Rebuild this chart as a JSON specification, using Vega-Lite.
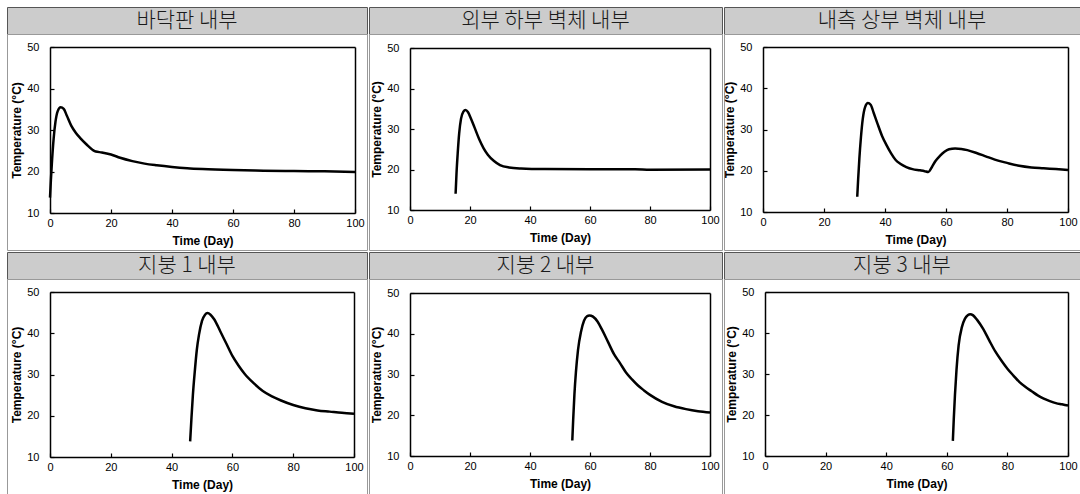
{
  "$schema": "https://vega.github.io/schema/vega-lite/v6.json",
  "padding": {"left": 6, "top": 6, "right": 0, "bottom": 0},
  "background": "#ffffff",
  "config": {
    "font": "Liberation Sans",
    "axis": {
      "grid": false,
      "domainColor": "#000000",
      "domainWidth": 1.5,
      "tickColor": "#000000",
      "tickWidth": 1.2,
      "ticks": true,
      "tickSize": -4,
      "labelFont": "Liberation Sans",
      "labelFontSize": 11,
      "labelColor": "#000000",
      "titleFont": "Liberation Sans",
      "titleFontWeight": "bold",
      "titleFontSize": 12,
      "titleColor": "#000000"
    },
    "axisX": {"labelPadding": 8, "titlePadding": 7, "labelFlush": false},
    "axisY": {"labelPadding": 15, "titlePadding": 3}
  },
  "datasets": {
    "p1": [
      {"day": 0, "temp": 13.7}, {"day": 0.3, "temp": 18}, {"day": 0.7, "temp": 23}, {"day": 1.2, "temp": 28},
      {"day": 1.8, "temp": 32}, {"day": 2.5, "temp": 34.5}, {"day": 3.5, "temp": 35.5}, {"day": 4.5, "temp": 35.1},
      {"day": 5.5, "temp": 33.5}, {"day": 7, "temp": 31}, {"day": 8.5, "temp": 29.3}, {"day": 10, "temp": 28},
      {"day": 12, "temp": 26.5}, {"day": 14, "temp": 25.2}, {"day": 15, "temp": 24.8}, {"day": 17, "temp": 24.6},
      {"day": 20, "temp": 24.1}, {"day": 23, "temp": 23.3}, {"day": 27, "temp": 22.5}, {"day": 31, "temp": 21.9},
      {"day": 35, "temp": 21.5}, {"day": 40, "temp": 21.1}, {"day": 45, "temp": 20.8}, {"day": 50, "temp": 20.6},
      {"day": 60, "temp": 20.35}, {"day": 70, "temp": 20.2}, {"day": 80, "temp": 20.1}, {"day": 90, "temp": 20.05},
      {"day": 100, "temp": 19.9}
    ],
    "p2": [
      {"day": 15.2, "temp": 14}, {"day": 15.5, "temp": 19}, {"day": 15.9, "temp": 24}, {"day": 16.4, "temp": 29},
      {"day": 17, "temp": 32.5}, {"day": 17.8, "temp": 34.3}, {"day": 18.5, "temp": 34.7}, {"day": 19.3, "temp": 34.2},
      {"day": 20.3, "temp": 32.6}, {"day": 21.5, "temp": 30.4}, {"day": 23, "temp": 27.6}, {"day": 24.5, "temp": 25.3},
      {"day": 26, "temp": 23.6}, {"day": 28, "temp": 22.1}, {"day": 30, "temp": 21.1}, {"day": 33, "temp": 20.5},
      {"day": 37, "temp": 20.25}, {"day": 45, "temp": 20.1}, {"day": 60, "temp": 20.05}, {"day": 75, "temp": 20.05},
      {"day": 80, "temp": 19.95}, {"day": 100, "temp": 20.0}
    ],
    "p3": [
      {"day": 30.9, "temp": 13.7}, {"day": 31.2, "temp": 18}, {"day": 31.6, "temp": 23}, {"day": 32.1, "temp": 28},
      {"day": 32.7, "temp": 32.5}, {"day": 33.5, "temp": 35.5}, {"day": 34.4, "temp": 36.4}, {"day": 35.3, "temp": 36},
      {"day": 36.3, "temp": 34}, {"day": 37.5, "temp": 31.5}, {"day": 39, "temp": 28.5}, {"day": 40.5, "temp": 26.2},
      {"day": 42, "temp": 24.2}, {"day": 43.5, "temp": 22.6}, {"day": 45, "temp": 21.7}, {"day": 47, "temp": 20.9},
      {"day": 49, "temp": 20.4}, {"day": 51.5, "temp": 20.1}, {"day": 53, "temp": 19.9}, {"day": 54.2, "temp": 19.7},
      {"day": 55.3, "temp": 20.8}, {"day": 56.5, "temp": 22.3}, {"day": 58, "temp": 23.6}, {"day": 59.5, "temp": 24.6},
      {"day": 61, "temp": 25.2}, {"day": 63, "temp": 25.4}, {"day": 65, "temp": 25.3}, {"day": 67, "temp": 25},
      {"day": 70, "temp": 24.3}, {"day": 73, "temp": 23.5}, {"day": 76, "temp": 22.7}, {"day": 80, "temp": 21.9},
      {"day": 84, "temp": 21.2}, {"day": 88, "temp": 20.8}, {"day": 92, "temp": 20.6}, {"day": 96, "temp": 20.4},
      {"day": 100, "temp": 20.2}
    ],
    "p4": [
      {"day": 46.1, "temp": 13.8}, {"day": 46.5, "temp": 19}, {"day": 47, "temp": 25}, {"day": 47.6, "temp": 30.5},
      {"day": 48.3, "temp": 36}, {"day": 49, "temp": 39.6}, {"day": 50, "temp": 43}, {"day": 51, "temp": 44.5},
      {"day": 51.8, "temp": 44.9}, {"day": 52.8, "temp": 44.5}, {"day": 54, "temp": 43.4}, {"day": 56, "temp": 40.5},
      {"day": 58, "temp": 37.5}, {"day": 60, "temp": 34.5}, {"day": 62, "temp": 32.2}, {"day": 64, "temp": 30.2},
      {"day": 67, "temp": 27.9}, {"day": 70, "temp": 26}, {"day": 73, "temp": 24.7}, {"day": 76, "temp": 23.7},
      {"day": 80, "temp": 22.6}, {"day": 84, "temp": 21.8}, {"day": 88, "temp": 21.3}, {"day": 92, "temp": 21},
      {"day": 96, "temp": 20.7}, {"day": 100, "temp": 20.5}
    ],
    "p5": [
      {"day": 54.1, "temp": 13.8}, {"day": 54.4, "temp": 19}, {"day": 54.8, "temp": 25}, {"day": 55.3, "temp": 30.5},
      {"day": 56, "temp": 36}, {"day": 57, "temp": 40.5}, {"day": 58, "temp": 43.2}, {"day": 59, "temp": 44.3},
      {"day": 59.8, "temp": 44.5}, {"day": 61, "temp": 44.2}, {"day": 62.5, "temp": 43}, {"day": 64, "temp": 41},
      {"day": 66, "temp": 38}, {"day": 68, "temp": 35}, {"day": 70, "temp": 32.8}, {"day": 72, "temp": 30.5},
      {"day": 74, "temp": 28.8}, {"day": 76, "temp": 27.3}, {"day": 78, "temp": 26.1}, {"day": 80, "temp": 25},
      {"day": 84, "temp": 23.3}, {"day": 88, "temp": 22.2}, {"day": 92, "temp": 21.5}, {"day": 96, "temp": 21},
      {"day": 100, "temp": 20.7}
    ],
    "p6": [
      {"day": 62, "temp": 13.7}, {"day": 62.3, "temp": 19}, {"day": 62.7, "temp": 25}, {"day": 63.2, "temp": 31},
      {"day": 63.9, "temp": 37}, {"day": 65, "temp": 41.5}, {"day": 66, "temp": 43.5}, {"day": 67, "temp": 44.4},
      {"day": 67.7, "temp": 44.6}, {"day": 68.7, "temp": 44.3}, {"day": 70, "temp": 43.2}, {"day": 72, "temp": 41},
      {"day": 74, "temp": 38.2}, {"day": 76, "temp": 35.5}, {"day": 78, "temp": 33.3}, {"day": 80, "temp": 31.3},
      {"day": 82, "temp": 29.6}, {"day": 84, "temp": 28}, {"day": 86, "temp": 26.8}, {"day": 88, "temp": 25.8},
      {"day": 90, "temp": 24.8}, {"day": 92, "temp": 24}, {"day": 94, "temp": 23.4}, {"day": 96, "temp": 22.9},
      {"day": 98, "temp": 22.6}, {"day": 100, "temp": 22.3}
    ]
  },
  "spacing": 0,
  "vconcat": [
    {
      "spacing": 0,
      "hconcat": [
        {
          "spacing": 0, "bounds": "flush",
          "vconcat": [
            {"width": 360, "height": 27, "view": {"fill": "#cccccc", "stroke": "#555555", "strokeWidth": 1},
             "data": {"values": [{"title": "바닥판 내부"}]},
             "mark": {"type": "text", "font": "Noto Sans CJK KR", "fontSize": 21, "fontWeight": 300, "color": "#1a1a1a", "baseline": "middle"},
             "encoding": {"text": {"field": "title"}}},
            {"width": 360, "height": 216, "view": {"fill": "#ffffff", "stroke": "#999999", "strokeWidth": 1},
             "data": {"name": "p1"},
             "resolve": {"axis": {"x": "independent", "y": "independent"}},
             "layer": [
               {"mark": {"type": "line", "color": "#000000", "strokeWidth": 2.5, "interpolate": "monotone"},
                "encoding": {
                  "x": {"field": "day", "type": "quantitative", "scale": {"domain": [0, 100], "range": [43, 348], "nice": false, "zero": false}, "axis": {"title": "Time (Day)", "values": [0, 20, 40, 60, 80, 100], "offset": -37}},
                  "y": {"field": "temp", "type": "quantitative", "scale": {"domain": [10, 50], "range": [179, 13], "nice": false, "zero": false}, "axis": {"title": "Temperature (°C)", "values": [10, 20, 30, 40, 50], "offset": -43}}
                }},
               {"mark": {"type": "point", "opacity": 0},
                "encoding": {
                  "x": {"field": "day", "type": "quantitative", "axis": {"orient": "top", "labels": false, "ticks": false, "title": null, "offset": -13}},
                  "y": {"field": "temp", "type": "quantitative", "axis": {"orient": "right", "labels": false, "ticks": false, "title": null, "offset": -12}}
                }}
             ]}
          ]
        },
        {
          "spacing": 0, "bounds": "flush",
          "vconcat": [
            {"width": 353, "height": 27, "view": {"fill": "#cccccc", "stroke": "#555555", "strokeWidth": 1},
             "data": {"values": [{"title": "외부 하부 벽체 내부"}]},
             "mark": {"type": "text", "font": "Noto Sans CJK KR", "fontSize": 21, "fontWeight": 300, "color": "#1a1a1a", "baseline": "middle"},
             "encoding": {"text": {"field": "title"}}},
            {"width": 353, "height": 216, "view": {"fill": "#ffffff", "stroke": "#999999", "strokeWidth": 1},
             "data": {"name": "p2"},
             "resolve": {"axis": {"x": "independent", "y": "independent"}},
             "layer": [
               {"mark": {"type": "line", "color": "#000000", "strokeWidth": 2.5, "interpolate": "monotone"},
                "encoding": {
                  "x": {"field": "day", "type": "quantitative", "scale": {"domain": [0, 100], "range": [41, 341], "nice": false, "zero": false}, "axis": {"title": "Time (Day)", "values": [0, 20, 40, 60, 80, 100], "offset": -40}},
                  "y": {"field": "temp", "type": "quantitative", "scale": {"domain": [10, 50], "range": [176, 14], "nice": false, "zero": false}, "axis": {"title": "Temperature (°C)", "values": [10, 20, 30, 40, 50], "offset": -41}}
                }},
               {"mark": {"type": "point", "opacity": 0},
                "encoding": {
                  "x": {"field": "day", "type": "quantitative", "axis": {"orient": "top", "labels": false, "ticks": false, "title": null, "offset": -14}},
                  "y": {"field": "temp", "type": "quantitative", "axis": {"orient": "right", "labels": false, "ticks": false, "title": null, "offset": -12}}
                }}
             ]}
          ]
        },
        {
          "spacing": 0, "bounds": "flush",
          "vconcat": [
            {"width": 356, "height": 27, "view": {"fill": "#cccccc", "stroke": "#555555", "strokeWidth": 1},
             "data": {"values": [{"title": "내측 상부 벽체 내부"}]},
             "mark": {"type": "text", "font": "Noto Sans CJK KR", "fontSize": 21, "fontWeight": 300, "color": "#1a1a1a", "baseline": "middle"},
             "encoding": {"text": {"field": "title"}}},
            {"width": 356, "height": 216, "view": {"fill": "#ffffff", "stroke": "#999999", "strokeWidth": 1},
             "data": {"name": "p3"},
             "resolve": {"axis": {"x": "independent", "y": "independent"}},
             "layer": [
               {"mark": {"type": "line", "color": "#000000", "strokeWidth": 2.5, "interpolate": "monotone"},
                "encoding": {
                  "x": {"field": "day", "type": "quantitative", "scale": {"domain": [0, 100], "range": [39, 344], "nice": false, "zero": false}, "axis": {"title": "Time (Day)", "values": [0, 20, 40, 60, 80, 100], "offset": -38}},
                  "y": {"field": "temp", "type": "quantitative", "scale": {"domain": [10, 50], "range": [178, 13], "nice": false, "zero": false}, "axis": {"title": "Temperature (°C)", "values": [10, 20, 30, 40, 50], "offset": -39}}
                }},
               {"mark": {"type": "point", "opacity": 0},
                "encoding": {
                  "x": {"field": "day", "type": "quantitative", "axis": {"orient": "top", "labels": false, "ticks": false, "title": null, "offset": -13}},
                  "y": {"field": "temp", "type": "quantitative", "axis": {"orient": "right", "labels": false, "ticks": false, "title": null, "offset": -12}}
                }}
             ]}
          ]
        }
      ]
    },
    {
      "spacing": 0,
      "hconcat": [
        {
          "spacing": 0, "bounds": "flush",
          "vconcat": [
            {"width": 360, "height": 27, "view": {"fill": "#cccccc", "stroke": "#555555", "strokeWidth": 1},
             "data": {"values": [{"title": "지붕 1 내부"}]},
             "mark": {"type": "text", "font": "Noto Sans CJK KR", "fontSize": 21, "fontWeight": 300, "color": "#1a1a1a", "baseline": "middle"},
             "encoding": {"text": {"field": "title"}}},
            {"width": 360, "height": 215, "view": {"fill": "#ffffff", "stroke": "#999999", "strokeWidth": 1},
             "data": {"name": "p4"},
             "resolve": {"axis": {"x": "independent", "y": "independent"}},
             "layer": [
               {"mark": {"type": "line", "color": "#000000", "strokeWidth": 2.5, "interpolate": "monotone"},
                "encoding": {
                  "x": {"field": "day", "type": "quantitative", "scale": {"domain": [0, 100], "range": [43, 347], "nice": false, "zero": false}, "axis": {"title": "Time (Day)", "values": [0, 20, 40, 60, 80, 100], "offset": -37}},
                  "y": {"field": "temp", "type": "quantitative", "scale": {"domain": [10, 50], "range": [178, 13], "nice": false, "zero": false}, "axis": {"title": "Temperature (°C)", "values": [10, 20, 30, 40, 50], "offset": -43}}
                }},
               {"mark": {"type": "point", "opacity": 0},
                "encoding": {
                  "x": {"field": "day", "type": "quantitative", "axis": {"orient": "top", "labels": false, "ticks": false, "title": null, "offset": -13}},
                  "y": {"field": "temp", "type": "quantitative", "axis": {"orient": "right", "labels": false, "ticks": false, "title": null, "offset": -13}}
                }}
             ]}
          ]
        },
        {
          "spacing": 0, "bounds": "flush",
          "vconcat": [
            {"width": 353, "height": 27, "view": {"fill": "#cccccc", "stroke": "#555555", "strokeWidth": 1},
             "data": {"values": [{"title": "지붕 2 내부"}]},
             "mark": {"type": "text", "font": "Noto Sans CJK KR", "fontSize": 21, "fontWeight": 300, "color": "#1a1a1a", "baseline": "middle"},
             "encoding": {"text": {"field": "title"}}},
            {"width": 353, "height": 215, "view": {"fill": "#ffffff", "stroke": "#999999", "strokeWidth": 1},
             "data": {"name": "p5"},
             "resolve": {"axis": {"x": "independent", "y": "independent"}},
             "layer": [
               {"mark": {"type": "line", "color": "#000000", "strokeWidth": 2.5, "interpolate": "monotone"},
                "encoding": {
                  "x": {"field": "day", "type": "quantitative", "scale": {"domain": [0, 100], "range": [41, 341], "nice": false, "zero": false}, "axis": {"title": "Time (Day)", "values": [0, 20, 40, 60, 80, 100], "offset": -38}},
                  "y": {"field": "temp", "type": "quantitative", "scale": {"domain": [10, 50], "range": [177, 14], "nice": false, "zero": false}, "axis": {"title": "Temperature (°C)", "values": [10, 20, 30, 40, 50], "offset": -41}}
                }},
               {"mark": {"type": "point", "opacity": 0},
                "encoding": {
                  "x": {"field": "day", "type": "quantitative", "axis": {"orient": "top", "labels": false, "ticks": false, "title": null, "offset": -14}},
                  "y": {"field": "temp", "type": "quantitative", "axis": {"orient": "right", "labels": false, "ticks": false, "title": null, "offset": -12}}
                }}
             ]}
          ]
        },
        {
          "spacing": 0, "bounds": "flush",
          "vconcat": [
            {"width": 356, "height": 27, "view": {"fill": "#cccccc", "stroke": "#555555", "strokeWidth": 1},
             "data": {"values": [{"title": "지붕 3 내부"}]},
             "mark": {"type": "text", "font": "Noto Sans CJK KR", "fontSize": 21, "fontWeight": 300, "color": "#1a1a1a", "baseline": "middle"},
             "encoding": {"text": {"field": "title"}}},
            {"width": 356, "height": 215, "view": {"fill": "#ffffff", "stroke": "#999999", "strokeWidth": 1},
             "data": {"name": "p6"},
             "resolve": {"axis": {"x": "independent", "y": "independent"}},
             "layer": [
               {"mark": {"type": "line", "color": "#000000", "strokeWidth": 2.5, "interpolate": "monotone"},
                "encoding": {
                  "x": {"field": "day", "type": "quantitative", "scale": {"domain": [0, 100], "range": [41, 344], "nice": false, "zero": false}, "axis": {"title": "Time (Day)", "values": [0, 20, 40, 60, 80, 100], "offset": -38}},
                  "y": {"field": "temp", "type": "quantitative", "scale": {"domain": [10, 50], "range": [177, 13], "nice": false, "zero": false}, "axis": {"title": "Temperature (°C)", "values": [10, 20, 30, 40, 50], "offset": -41}}
                }},
               {"mark": {"type": "point", "opacity": 0},
                "encoding": {
                  "x": {"field": "day", "type": "quantitative", "axis": {"orient": "top", "labels": false, "ticks": false, "title": null, "offset": -13}},
                  "y": {"field": "temp", "type": "quantitative", "axis": {"orient": "right", "labels": false, "ticks": false, "title": null, "offset": -12}}
                }}
             ]}
          ]
        }
      ]
    }
  ]
}
